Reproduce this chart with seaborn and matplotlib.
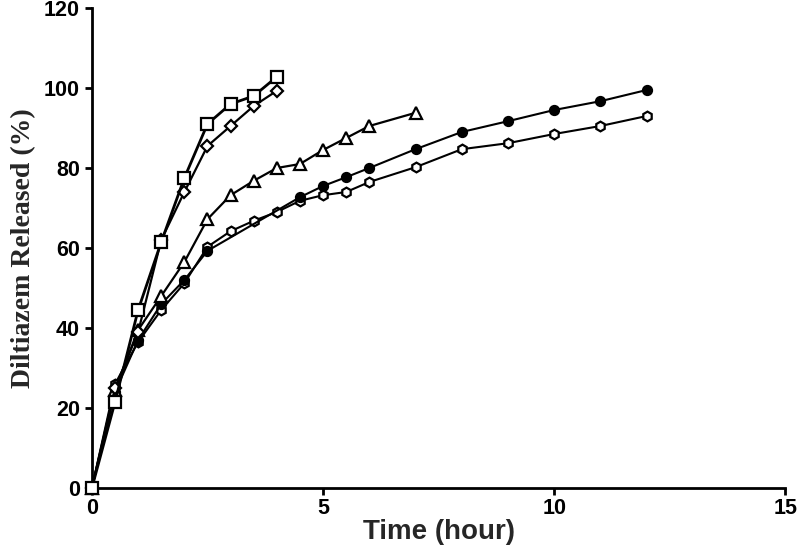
#!/usr/bin/env python3
"""Diltiazem release profiles over time."""

import matplotlib
matplotlib.use("Agg")
import matplotlib.pyplot as plt
import seaborn as sns
import pandas as pd

# release data (% released)
t_square = [0, 0.5, 1, 1.5, 2, 2.5, 3, 3.5, 4]
y_square = [0, 21.5, 44.5, 61.5, 77.5, 91, 96, 98, 102.8]

t_diamond = [0, 0.5, 1, 1.5, 2, 2.5, 3, 3.5, 4]
y_diamond = [0, 25, 39, 62, 74, 85.5, 90.5, 95.5, 99.3]

t_triangle = [0, 0.5, 1, 1.5, 2, 2.5, 3, 3.5, 4, 4.5, 5, 5.5, 6, 7]
y_triangle = [0, 24.5, 39.5, 48, 56.5, 67.2, 73.2, 76.8, 80, 81, 84.5, 87.5, 90.5, 93.8]

t_filled = [0, 0.5, 1, 1.5, 2, 2.5, 4.5, 5, 5.5, 6, 7, 8, 9, 10, 11, 12]
y_filled = [0, 24, 37, 46, 52, 59.3, 72.7, 75.5, 77.7, 80, 84.7, 89, 91.7, 94.5, 96.7, 99.5]

t_open = [0, 0.5, 1, 1.5, 2, 2.5, 3, 3.5, 4, 4.5, 5, 5.5, 6, 7, 8, 9, 10, 11, 12]
y_open = [0, 26, 36.5, 44.5, 51.2, 60.3, 64.2, 66.8, 69, 71.8, 73.2, 74, 76.5, 80.2, 84.7, 86.2, 88.5, 90.5, 93]


def main() -> None:
    sns.set_style("ticks")
    plt.rcParams["font.family"] = ["Liberation Sans", "DejaVu Sans"]

    fig = plt.figure(figsize=(7.99, 5.51), dpi=100)
    ax = fig.add_axes([0.115, 0.1143, 0.868, 0.8712])

    series = [
        (t_open, y_open, "h", "white", 7, 1.5),
        (t_filled, y_filled, "o", "black", 6.5, 1.5),
        (t_triangle, y_triangle, "^", "white", 9, 1.6),
        (t_diamond, y_diamond, "D", "white", 6, 1.6),
        (t_square, y_square, "s", "white", 8.5, 2.0),
    ]
    for t, y, marker, face, size, lw in series:
        df = pd.DataFrame({"t": t, "y": y})
        sns.lineplot(data=df, x="t", y="y", ax=ax, color="black", lw=lw,
                     marker=marker, markersize=size, markerfacecolor=face,
                     markeredgecolor="black", markeredgewidth=1.6,
                     clip_on=False, zorder=3)

    ax.set_xlim(0, 15)
    ax.set_ylim(0, 120)
    ax.set_xticks([0, 5, 10, 15])
    ax.set_yticks(range(0, 121, 20))
    sns.despine(ax=ax)
    for s in ("left", "bottom"):
        ax.spines[s].set_linewidth(2)
        ax.spines[s].set_color("black")
    ax.tick_params(axis="both", direction="out", length=5, width=2,
                   labelsize=15.5, colors="black")
    ax.tick_params(axis="x", pad=2)
    for lab in ax.get_xticklabels() + ax.get_yticklabels():
        lab.set_fontweight("bold")

    ax.set_xlabel("Time (hour)", fontsize=20, fontweight="bold", labelpad=0)
    ax.set_ylabel("Diltiazem Released (%)", fontsize=20, fontweight="bold",
                  family=["Liberation Serif", "DejaVu Serif"], labelpad=6)

    fig.savefig("out.png", dpi=100)


if __name__ == "__main__":
    main()
